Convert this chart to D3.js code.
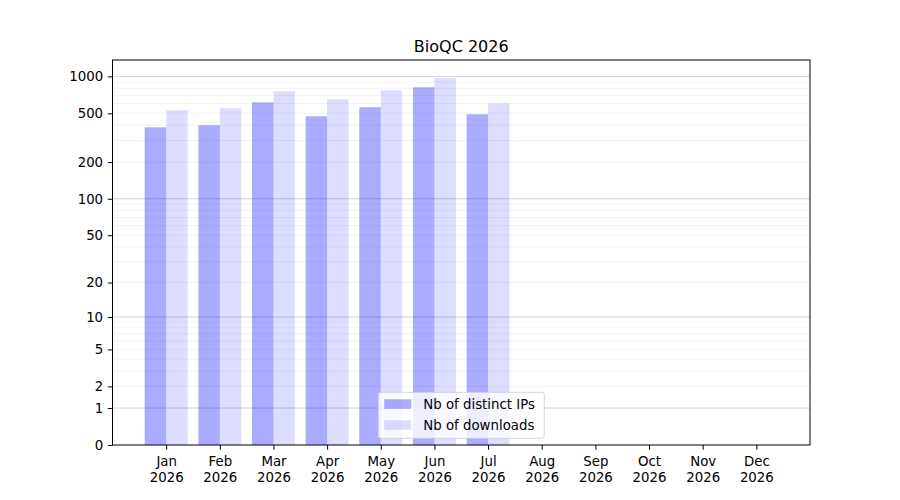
<!DOCTYPE html>
<html>
<head>
<meta charset="utf-8">
<script src="https://cdn.jsdelivr.net/npm/d3@7"></script>
<style>
  body { margin: 0; background: #fff; }
  svg text { font-family: "DejaVu Sans", sans-serif; fill: #000; }
</style>
</head>
<body>
<div id="chart"></div>
<script>
// Data
const months = ["Jan", "Feb", "Mar", "Apr", "May", "Jun", "Jul", "Aug", "Sep", "Oct", "Nov", "Dec"];
const year = "2026";
const distinctIPs = [384, 400, 615, 473, 560, 814, 491];
const downloads = [530, 550, 756, 650, 770, 964, 603];
const yTicks = [0, 1, 2, 5, 10, 20, 50, 100, 200, 500, 1000];
const majorGrid = [1, 10, 100, 1000];
const seriesNames = ["Nb of distinct IPs", "Nb of downloads"];

const width = 900, height = 500;
const margin = { top: 60, right: 90, bottom: 55, left: 112.5 };

const svg = d3.select("#chart").append("svg")
    .attr("width", width)
    .attr("height", height);

// x: month index, with one empty slot of padding on each side
const x = d3.scaleLinear()
    .domain([-1, 12])
    .range([margin.left, width - margin.right]);

// symlog (log10(1+y)), top padded 5% in transformed space like matplotlib
const maxVal = d3.max(downloads.concat(distinctIPs));
const topVal = Math.pow(10, Math.log10(1 + maxVal) * 1.05) - 1;
const y = d3.scaleSymlog()
    .constant(1)
    .domain([0, topVal])
    .range([height - margin.bottom, margin.top]);

const barW = x(0.4) - x(0);

// minor grid lines
const minorGrid = [];
[1, 10, 100].forEach(d => {
    for (let i = 2; i <= 9; i++) minorGrid.push(d * i);
});
svg.append("g")
    .selectAll("line")
    .data(minorGrid.filter(v => v <= topVal))
    .join("line")
    .attr("x1", margin.left)
    .attr("x2", width - margin.right)
    .attr("y1", d => y(d))
    .attr("y2", d => y(d))
    .attr("stroke", "#b0b0b0")
    .attr("stroke-opacity", 0.2)
    .attr("stroke-width", 0.8);

// major grid lines
svg.append("g")
    .selectAll("line")
    .data(majorGrid)
    .join("line")
    .attr("x1", margin.left)
    .attr("x2", width - margin.right)
    .attr("y1", d => y(d))
    .attr("y2", d => y(d))
    .attr("stroke", "#b0b0b0")
    .attr("stroke-opacity", 0.7)
    .attr("stroke-width", 0.8);

// bars
svg.append("g")
    .selectAll("rect")
    .data(distinctIPs)
    .join("rect")
    .attr("x", (d, i) => x(i - 0.4))
    .attr("y", d => y(d))
    .attr("width", barW)
    .attr("height", d => y(0) - y(d))
    .attr("fill", "blue")
    .attr("fill-opacity", 0.33);

svg.append("g")
    .selectAll("rect")
    .data(downloads)
    .join("rect")
    .attr("x", (d, i) => x(i))
    .attr("y", d => y(d))
    .attr("width", barW)
    .attr("height", d => y(0) - y(d))
    .attr("fill", "blue")
    .attr("fill-opacity", 0.134);

// frame
svg.append("rect")
    .attr("x", margin.left)
    .attr("y", margin.top)
    .attr("width", width - margin.left - margin.right)
    .attr("height", height - margin.top - margin.bottom)
    .attr("fill", "none")
    .attr("stroke", "#000")
    .attr("stroke-width", 1);

// y axis
const yAxis = svg.append("g")
    .attr("transform", `translate(${margin.left},0)`)
    .call(d3.axisLeft(y).tickValues(yTicks).tickFormat(d3.format("d")).tickSize(4.7).tickPadding(4.7));
yAxis.select(".domain").remove();
yAxis.selectAll(".tick line").attr("stroke", "#000");
yAxis.selectAll(".tick text")
    .style("font-size", "13.33px")
    .style("font-family", "DejaVu Sans, sans-serif");

// x axis
const xAxis = svg.append("g")
    .attr("transform", `translate(0,${height - margin.bottom})`)
    .call(d3.axisBottom(x).tickValues(d3.range(months.length)).tickFormat("").tickSize(4.7));
xAxis.select(".domain").remove();
xAxis.selectAll(".tick line").attr("stroke", "#000");
xAxis.selectAll(".tick").each(function (d) {
    const t = d3.select(this).append("text")
        .attr("text-anchor", "middle")
        .style("font-size", "13.33px");
    t.append("tspan").attr("x", 0).attr("y", 20.5).text(months[d]);
    t.append("tspan").attr("x", 0).attr("y", 36.5).text(year);
});

// title
svg.append("text")
    .attr("x", (margin.left + width - margin.right) / 2)
    .attr("y", 52)
    .attr("text-anchor", "middle")
    .style("font-size", "16px")
    .text("BioQC 2026");

// legend, lower center
const lgW = 166, lgH = 46;
const lgX = (margin.left + width - margin.right) / 2 - lgW / 2;
const lgY = height - margin.bottom - 6.7 - lgH;
const legend = svg.append("g").attr("transform", `translate(${lgX},${lgY})`);
legend.append("rect")
    .attr("width", lgW)
    .attr("height", lgH)
    .attr("rx", 2.5)
    .attr("fill", "#fff")
    .attr("fill-opacity", 0.8)
    .attr("stroke", "#cccccc")
    .attr("stroke-opacity", 0.8);
const lgOpacity = [0.33, 0.134];
seriesNames.forEach((name, i) => {
    legend.append("rect")
        .attr("x", 6)
        .attr("y", 7 + i * 21)
        .attr("width", 27)
        .attr("height", 9.5)
        .attr("fill", "blue")
        .attr("fill-opacity", lgOpacity[i]);
    legend.append("text")
        .attr("x", 45)
        .attr("y", 16.5 + i * 21)
        .style("font-size", "13.33px")
        .text(name);
});
</script>
</body>
</html>
